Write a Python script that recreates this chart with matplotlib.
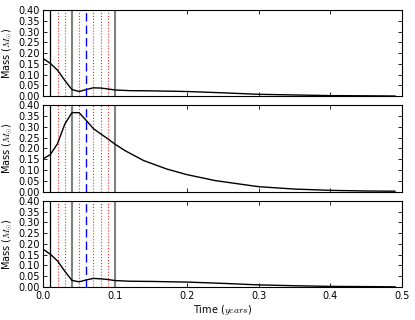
import numpy as np
import matplotlib
matplotlib.use('Agg')
from matplotlib import pyplot as plt

plt.rcParams['mathtext.fontset'] = 'cm'

# time axis points (years) and mass curves
t_top = [0.0, 0.01, 0.02, 0.03, 0.04, 0.05, 0.06, 0.07, 0.08, 0.09, 0.10, 0.12, 0.15, 0.20, 0.25, 0.30, 0.35, 0.40, 0.45, 0.49]
m_top = [0.175, 0.152, 0.121, 0.074, 0.031, 0.022, 0.031, 0.039, 0.038, 0.034, 0.029, 0.026, 0.025, 0.022, 0.016, 0.009, 0.006, 0.003, 0.002, 0.001]

t_mid = [0.0, 0.01, 0.02, 0.03, 0.04, 0.05, 0.06, 0.07, 0.08, 0.09, 0.10, 0.114, 0.14, 0.172, 0.20, 0.24, 0.30, 0.35, 0.40, 0.45, 0.49]
m_mid = [0.152, 0.172, 0.222, 0.312, 0.366, 0.366, 0.330, 0.292, 0.268, 0.245, 0.220, 0.190, 0.144, 0.105, 0.079, 0.051, 0.023, 0.012, 0.006, 0.003, 0.002]

t_bot = t_top
m_bot = [0.175, 0.152, 0.121, 0.074, 0.031, 0.024, 0.033, 0.040, 0.038, 0.035, 0.030, 0.027, 0.026, 0.023, 0.017, 0.010, 0.006, 0.003, 0.002, 0.001]

# marker lines
black_x = [0.01]
gray_x = [0.04, 0.10]
red_x = [0.02, 0.03, 0.05, 0.07, 0.08, 0.09]
blue_x = [0.06]

yticks = [0.0, 0.05, 0.10, 0.15, 0.20, 0.25, 0.30, 0.35, 0.40]
xticks = [0.0, 0.1, 0.2, 0.3, 0.4, 0.5]

fig, axes = plt.subplots(3, 1, figsize=(4.15, 3.2), dpi=100, sharex=True)
fig.subplots_adjust(left=0.104, right=0.969, top=0.969, bottom=0.103, hspace=0.105)

curves = [(t_top, m_top), (t_mid, m_mid), (t_bot, m_bot)]
for ax, (t, m) in zip(axes, curves):
    for x in black_x:
        ax.axvline(x, color='black', lw=0.9)
    for x in gray_x:
        ax.axvline(x, color='0.5', lw=1.5)
    for x in red_x:
        ax.axvline(x, color='red', lw=0.8, ls=':', alpha=0.85)
    for x in blue_x:
        ax.axvline(x, color='blue', lw=1.0, ls=(0, (6, 3)))
    ax.plot(t, m, color='black', lw=1.0)
    ax.set_xlim(0, 0.5)
    ax.set_ylim(0, 0.4)
    ax.set_yticks(yticks)
    ax.set_yticklabels(['%.2f' % v for v in yticks])
    ax.set_xticks(xticks)
    ax.tick_params(direction='in', top=True, right=True, labelsize=7, length=3, width=0.6, pad=2.5)
    ax.set_ylabel(r'Mass ($M_{\odot}$)', fontsize=7, labelpad=2)
    for s in ax.spines.values():
        s.set_linewidth(0.8)

axes[2].set_xticklabels(['%.1f' % v for v in xticks])
axes[2].set_xlabel(r'Time ($years$)', fontsize=7, labelpad=2)

plt.savefig('out.png', dpi=100)
